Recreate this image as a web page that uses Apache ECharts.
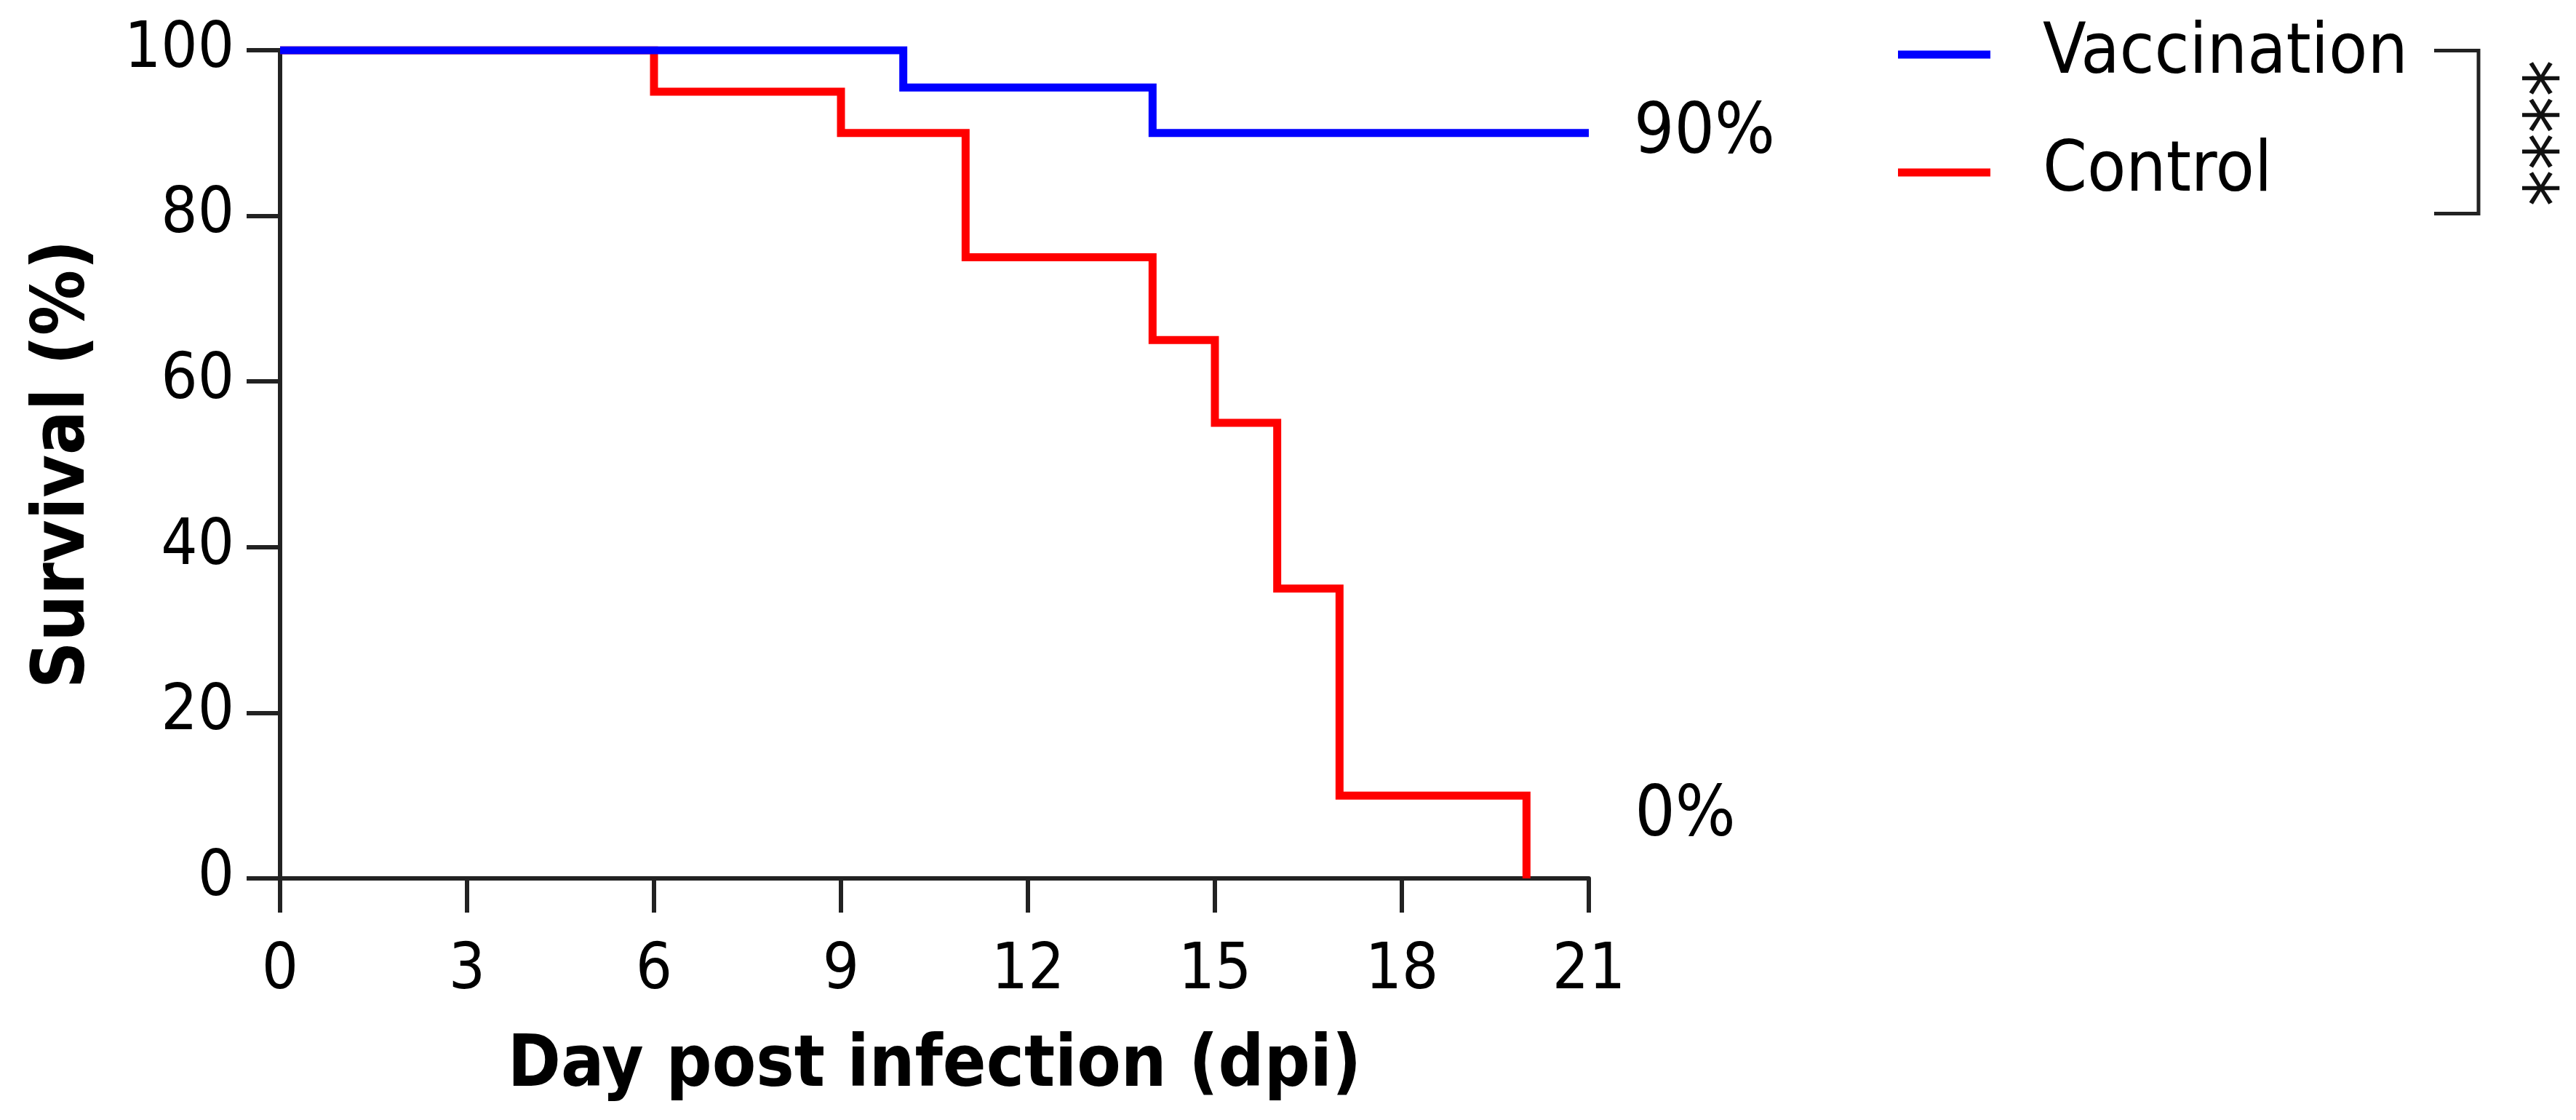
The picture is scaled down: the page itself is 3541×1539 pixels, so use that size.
<!DOCTYPE html>
<html>
<head>
<meta charset="utf-8">
<script src="https://cdn.jsdelivr.net/npm/echarts@6/dist/echarts.min.js"></script>
<style>
  html, body { margin: 0; padding: 0; background: #ffffff; }
  #chart { width: 3541px; height: 1539px; }
</style>
</head>
<body>
<div id="chart"></div>
<script>
// ---- data ----
var seriesNames = ['Vaccination', 'Control'];
var vaccinationDays = [0, 10, 14, 21];
var vaccinationSurvival = [100, 95.5, 90, 90];
var controlDays = [0, 6, 9, 11, 14, 15, 16, 17, 20];
var controlSurvival = [100, 95, 90, 75, 65, 55, 35, 10, 0];
var endLabels = ['90%', '0%'];
var xTicks = [0, 3, 6, 9, 12, 15, 18, 21];
var yTicks = [0, 20, 40, 60, 80, 100];
var significance = '****';

function pairs(xs, ys) { return xs.map(function (x, i) { return [x, ys[i]]; }); }

var FONT = 'DejaVu Sans Condensed, DejaVu Sans, sans-serif';
var chart = echarts.init(document.getElementById('chart'), null, { renderer: 'canvas' });

var axisLineStyle = { color: '#222222', width: 6 };

var option = {
  animation: false,
  backgroundColor: '#ffffff',
  grid: { left: 385, right: 1357, top: 69, bottom: 332, containLabel: false },
  legend: {
    data: seriesNames,
    orient: 'vertical',
    left: 2604,
    top: 20,
    itemWidth: 127,
    itemHeight: 11,
    itemGap: 62,
    icon: 'rect',
    textStyle: { fontFamily: FONT, fontSize: 97, color: '#000', lineHeight: 100, padding: [0, 0, 0, 67] }
  },
  xAxis: {
    type: 'value',
    min: xTicks[0],
    max: xTicks[xTicks.length - 1],
    interval: 3,
    name: 'Day post infection (dpi)',
    nameLocation: 'middle',
    nameGap: 211,
    nameTextStyle: { fontFamily: FONT, fontWeight: 'bold', fontSize: 98, color: '#000' },
    axisLine: { show: true, onZero: false, lineStyle: axisLineStyle },
    axisTick: { show: true, inside: false, length: 47, lineStyle: axisLineStyle },
    axisLabel: { fontFamily: FONT, fontSize: 88, color: '#000', margin: 84 },
    splitLine: { show: false }
  },
  yAxis: {
    type: 'value',
    min: yTicks[0],
    max: yTicks[yTicks.length - 1],
    interval: 20,
    name: 'Survival (%)',
    nameLocation: 'middle',
    nameGap: 246,
    nameTextStyle: { fontFamily: FONT, fontWeight: 'bold', fontSize: 100, color: '#000' },
    axisLine: { show: true, lineStyle: axisLineStyle },
    axisTick: { show: true, length: 46, lineStyle: axisLineStyle },
    axisLabel: { fontFamily: FONT, fontSize: 88, color: '#000', margin: 63 },
    splitLine: { show: false }
  },
  series: [
    {
      name: seriesNames[1],
      type: 'line',
      step: 'end',
      data: pairs(controlDays, controlSurvival),
      showSymbol: false,
      symbol: 'none',
      z: 3,
      itemStyle: { color: '#ff0000' },
      lineStyle: { color: '#ff0000', width: 11, cap: 'butt', join: 'miter' },
      endLabel: {
        show: true,
        formatter: endLabels[1],
        distance: 149,
        offset: [0, -84],
        fontFamily: FONT, fontSize: 97, color: '#000'
      }
    },
    {
      name: seriesNames[0],
      type: 'line',
      step: 'end',
      data: pairs(vaccinationDays, vaccinationSurvival),
      showSymbol: false,
      symbol: 'none',
      z: 4,
      itemStyle: { color: '#0000ff' },
      lineStyle: { color: '#0000ff', width: 11, cap: 'butt', join: 'miter' },
      endLabel: {
        show: true,
        formatter: endLabels[0],
        distance: 62,
        offset: [0, 2],
        fontFamily: FONT, fontSize: 97, color: '#000'
      }
    }
  ],
  graphic: [
    {
      type: 'polyline',
      shape: { points: [[3346, 69.5], [3407, 69.5], [3407, 293.5], [3346, 293.5]] },
      style: { stroke: '#222222', lineWidth: 5, fill: null }
    },
    {
      type: 'text',
      x: 3464,
      y: 183,
      rotation: -Math.PI / 2,
      style: {
        text: significance,
        fontFamily: FONT,
        fontSize: 112,
        fill: '#111',
        align: 'center',
        verticalAlign: 'middle'
      }
    }
  ]
};
chart.setOption(option);
</script>
</body>
</html>
